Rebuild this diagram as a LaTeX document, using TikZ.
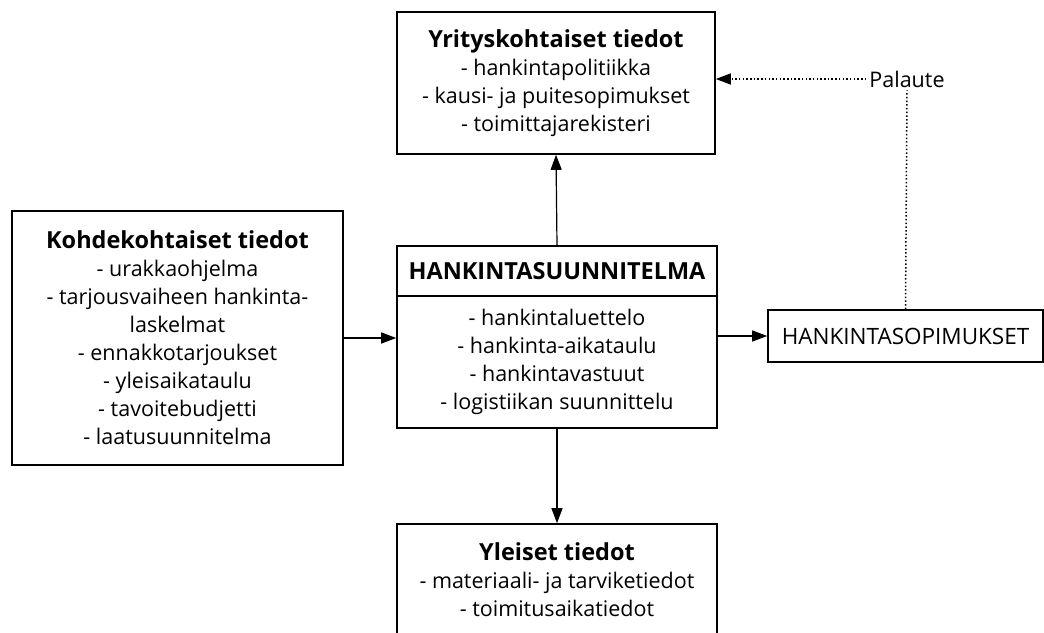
\documentclass[tikz,border=0pt]{standalone}
\usepackage{fontspec}
\setmainfont{Open Sans}
\usetikzlibrary{arrows.meta}
\newcommand{\boxtitle}[1]{{\fontsize{23.5}{28}\selectfont\bfseries #1}}
\tikzset{
  infobox/.style={draw, line width=1.6pt, align=center, inner sep=0pt,
    font=\fontsize{21.5}{28}\selectfont},
  arr/.style={line width=1.2pt, -{Triangle[length=15pt,width=11pt]}},
  feedback/.style={line width=1.5pt, dash pattern=on 1.5pt off 2.2pt},
}
\begin{document}
\begin{tikzpicture}[x=1pt,y=-1pt]
  % page frame
  \clip (0,0) rectangle (1044,632);
  \fill[white] (0,0) rectangle (1044,632);
  % company level data
  \node[infobox, minimum width=318pt, minimum height=142pt] (yritys) at (556,83)
    {\boxtitle{Yrityskohtaiset tiedot}\\- hankintapolitiikka\\- kausi- ja puitesopimukset\\- toimittajarekisteri};
  % project level data
  \node[infobox, minimum width=331pt, minimum height=254pt] (kohde) at (177.5,338)
    {\boxtitle{Kohdekohtaiset tiedot}\\- urakkaohjelma\\- tarjousvaiheen hankinta-\\laskelmat\\- ennakkotarjoukset\\- yleisaikataulu\\- tavoitebudjetti\\- laatusuunnitelma};
  % the plan itself
  \node[infobox, minimum width=320pt, minimum height=50pt] (plan) at (557,271)
    {\boxtitle{HANKINTASUUNNITELMA}};
  \node[infobox, minimum width=320pt, minimum height=132pt] (planlist) at (557,362)
    {- hankintaluettelo\\- hankinta-aikataulu\\- hankintavastuut\\- logistiikan suunnittelu};
  % general data
  \node[infobox, minimum width=320pt, minimum height=112pt] (yleiset) at (557,580)
    {\boxtitle{Yleiset tiedot}\\- materiaali- ja tarviketiedot\\- toimitusaikatiedot};
  % contracts
  \node[infobox, minimum width=275pt, minimum height=52pt, font=\fontsize{22.5}{28}\selectfont] (sopimus) at (905.5,336)
    {HANKINTASOPIMUKSET};
  \node[font=\fontsize{21.5}{28}\selectfont, inner sep=3pt] (palaute) at (907,79) {Palaute};
  % connectors
  \draw[arr] (plan.north) -- (yritys.south);
  \draw[arr] (planlist.south) -- (yleiset.north);
  \draw[arr] (kohde.east) -- (kohde.east -| planlist.west);
  \draw[arr] (sopimus.west -| planlist.east) -- (sopimus.west);
  \draw[feedback] (sopimus.north) -- (palaute.south);
  \draw[feedback, -{Triangle[length=15pt,width=11pt]}] (palaute.west) -- (palaute.west -| yritys.east);
\end{tikzpicture}
\end{document}
